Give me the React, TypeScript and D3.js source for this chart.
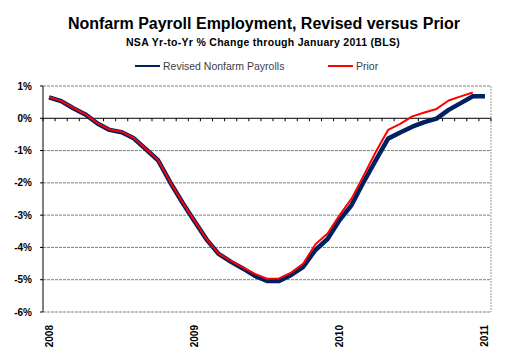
import React from "react";
import * as d3 from "d3";

const months: string[] = [];
for (let y = 2008; y <= 2011; y++) {
  const ms = y === 2011 ? 1 : 12;
  for (let m = 1; m <= ms; m++) months.push(`${y}-${String(m).padStart(2, "0")}`);
}

const revised = [
  0.65, 0.53, 0.31, 0.12, -0.16, -0.36, -0.43, -0.62, -0.96, -1.3, -1.98, -2.6,
  -3.18, -3.75, -4.2, -4.44, -4.65, -4.88, -5.04, -5.04, -4.85, -4.6, -4.08, -3.74,
  -3.15, -2.68, -1.96, -1.29, -0.63, -0.44, -0.26, -0.12, -0.01, 0.26, 0.47, 0.68,
  0.68,
];

const prior = [
  0.66, 0.54, 0.32, 0.13, -0.15, -0.35, -0.42, -0.61, -0.95, -1.29, -1.97, -2.59,
  -3.17, -3.74, -4.19, -4.42, -4.62, -4.82, -4.97, -4.96, -4.78, -4.5, -3.9, -3.57,
  -3.0, -2.48, -1.76, -1.03, -0.36, -0.17, 0.06, 0.18, 0.29, 0.55, 0.68, 0.8,
];

const yTicks = [1, 0, -1, -2, -3, -4, -5, -6];
const yearLabels = ["2008", "2009", "2010", "2011"];

const FONT = "'Liberation Sans', Arial, sans-serif";

export default function App() {
  const W = 508, H = 357;
  const left = 43, right = 491, top = 86, bottom = 312;

  const x = d3.scalePoint<string>().domain(months).range([left, right]).padding(0.5);
  const y = d3.scaleLinear().domain([-6, 1]).range([bottom, top]);
  const step = x.step();

  const line = d3
    .line<number>()
    .x((_, i) => x(months[i]) as number)
    .y((d) => y(d));

  const boundaries = d3.range(months.length + 1).map((i) => left + i * step);

  return (
    <svg
      width={W}
      height={H}
      style={{ position: "absolute", left: 0, top: 0, background: "#fff" }}
      fontFamily={FONT}
    >
      <rect x={0} y={0} width={W} height={H} fill="#fff" />
      <text x={264} y={29} textAnchor="middle" fontSize={16} fontWeight="bold" fill="#000">
        Nonfarm Payroll Employment, Revised versus Prior
      </text>
      <text x={263} y={45.5} textAnchor="middle" fontSize={10.5} fontWeight="bold" fill="#000" letterSpacing={0.3}>
        NSA Yr-to-Yr % Change through January 2011 (BLS)
      </text>

      {/* legend */}
      <line x1={135} x2={160} y1={66} y2={66} stroke="#002060" strokeWidth={2} />
      <text x={163} y={70} fontSize={10.5} fill="#404040">Revised Nonfarm Payrolls</text>
      <line x1={328} x2={353} y1={66} y2={66} stroke="#ff0000" strokeWidth={2} />
      <text x={356} y={70} fontSize={10.5} fill="#404040">Prior</text>

      {/* gridlines */}
      {yTicks.map((t) =>
        t === 0 ? null : (
          <line
            key={t}
            x1={left}
            x2={right}
            y1={y(t)}
            y2={y(t)}
            stroke="#808080"
            strokeWidth={1}
            strokeDasharray="3,1"
          />
        )
      )}
      {/* plot border top/right */}
      <line x1={right} x2={right} y1={top} y2={bottom} stroke="#999" strokeDasharray="2,1" />

      {/* y axis */}
      <line x1={left} x2={left} y1={top} y2={bottom} stroke="#000" />
      {yTicks.map((t) => (
        <g key={t}>
          <line x1={left - 3} x2={left} y1={y(t)} y2={y(t)} stroke="#000" />
          <text
            x={32}
            y={y(t)}
            dy="0.35em"
            textAnchor="end"
            fontSize={10}
            fontWeight="bold"
            fill="#000"
          >
            {`${t}%`}
          </text>
        </g>
      ))}

      {/* category axis at 0 */}
      <line x1={left} x2={right} y1={y(0)} y2={y(0)} stroke="#000" />
      {boundaries.map((bx, i) => (
        <line key={i} x1={bx} x2={bx} y1={y(0)} y2={y(0) + 3} stroke="#000" />
      ))}

      {/* year labels */}
      {yearLabels.map((yr) => {
        const px = x(`${yr}-01`) as number;
        return (
          <text
            key={yr}
            transform={`translate(${px},325) rotate(-90)`}
            textAnchor="end"
            dy="0.35em"
            fontSize={10}
            fontWeight="bold"
            fill="#000"
          >
            {yr}
          </text>
        );
      })}

      {/* series */}
      <path d={line(revised) || ""} fill="none" stroke="#002060" strokeWidth={4.5} strokeLinejoin="round" />
      <path d={line(prior) || ""} fill="none" stroke="#ff0000" strokeWidth={2} strokeLinejoin="round" />
    </svg>
  );
}
